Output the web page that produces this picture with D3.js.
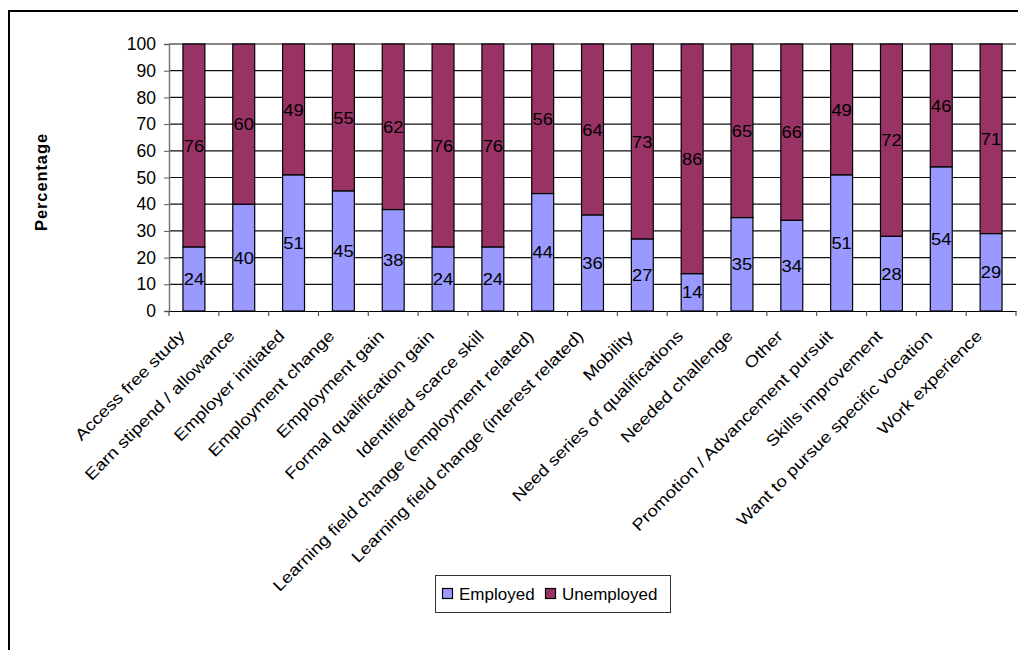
<!DOCTYPE html>
<html>
<head>
<meta charset="utf-8">
<script src="https://cdn.jsdelivr.net/npm/d3@7/dist/d3.min.js"></script>
<style>
  html, body { margin: 0; padding: 0; background: #fff; }
  svg { display: block; }
  text { font-family: Arial, "Liberation Sans", sans-serif; }
</style>
</head>
<body>
<script>
const categories = [
  "Access free study",
  "Earn stipend / allowance",
  "Employer initiated",
  "Employment change",
  "Employment gain",
  "Formal qualification gain",
  "Identified scarce skill",
  "Learning field change (employment related)",
  "Learning field change (interest related)",
  "Mobility",
  "Need series of qualifications",
  "Needed challenge",
  "Other",
  "Promotion / Advancement pursuit",
  "Skills improvement",
  "Want to pursue specific vocation",
  "Work experience"
];
const employed   = [24, 40, 51, 45, 38, 24, 24, 44, 36, 27, 14, 35, 34, 51, 28, 54, 29];
const unemployed = [76, 60, 49, 55, 62, 76, 76, 56, 64, 73, 86, 65, 66, 49, 72, 46, 71];
const seriesNames = ["Employed", "Unemployed"];
const seriesColors = ["#9999FF", "#993366"];
const yTicks = [0, 10, 20, 30, 40, 50, 60, 70, 80, 90, 100];

const W = 1018, H = 650;
const svg = d3.select("body").append("svg").attr("width", W).attr("height", H);

// outer chart border
svg.append("rect")
  .attr("x", 9).attr("y", 11).attr("width", W + 20).attr("height", H + 20)
  .attr("fill", "none").attr("stroke", "#000").attr("stroke-width", 2);

const plot = { left: 169, right: 1016, top: 44, bottom: 311 };

const x = d3.scaleBand()
  .domain(categories)
  .range([plot.left, plot.right])
  .paddingInner(0.56)
  .paddingOuter(0.28);

const y = d3.scaleLinear().domain([0, 100]).range([plot.bottom, plot.top]);

// gridlines
svg.append("g")
  .selectAll("line")
  .data(yTicks.filter(d => d > 0))
  .join("line")
  .attr("x1", plot.left).attr("x2", plot.right)
  .attr("y1", d => y(d)).attr("y2", d => y(d))
  .attr("stroke", "#111").attr("stroke-width", 1.2);

// stacked data
const table = categories.map((c, i) => ({ cat: c, Employed: employed[i], Unemployed: unemployed[i] }));
const stack = d3.stack().keys(seriesNames)(table);

const layers = svg.append("g").selectAll("g")
  .data(stack)
  .join("g")
  .attr("fill", (d, i) => seriesColors[i]);

layers.selectAll("rect")
  .data(d => d)
  .join("rect")
  .attr("x", d => x(d.data.cat))
  .attr("width", x.bandwidth())
  .attr("y", d => y(d[1]))
  .attr("height", d => y(d[0]) - y(d[1]))
  .attr("stroke", "#000")
  .attr("stroke-width", 1.2);

// data labels
layers.selectAll("text")
  .data(d => d)
  .join("text")
  .attr("transform", d => `translate(${x(d.data.cat) + x.bandwidth() / 2},${y((d[0] + d[1]) / 2)}) scale(1.08,1)`)
  .attr("dy", "0.36em")
  .attr("text-anchor", "middle")
  .attr("fill", "#000")
  .style("font-size", "17px")
  .text(d => d[1] - d[0]);

// y axis
const yAxis = svg.append("g")
  .attr("transform", `translate(${plot.left},0)`)
  .call(d3.axisLeft(y).tickValues(yTicks).tickSize(5).tickPadding(8));
yAxis.select(".domain").attr("stroke", "#777").attr("stroke-width", 1.5);
yAxis.selectAll(".tick line").attr("stroke", "#555");
yAxis.selectAll("text").style("font-size", "17.5px").attr("fill", "#000");

// x axis
const xAxis = svg.append("g")
  .attr("transform", `translate(0,${plot.bottom})`)
  .call(d3.axisBottom(x).tickSize(0).tickFormat(""));
xAxis.select(".domain").attr("stroke", "#000").attr("stroke-width", 1.2);
xAxis.selectAll(".tick").remove();

// category boundary ticks
const step = x.step();
svg.append("g").selectAll("line")
  .data(d3.range(categories.length + 1))
  .join("line")
  .attr("x1", i => plot.left + i * step).attr("x2", i => plot.left + i * step)
  .attr("y1", plot.bottom).attr("y2", plot.bottom + 5)
  .attr("stroke", "#555").attr("stroke-width", 1.2);

// category labels (rotated)
svg.append("g").selectAll("text")
  .data(categories)
  .join("text")
  .attr("transform", d => `translate(${x(d) + x.bandwidth() / 2 - 8},${plot.bottom + 26}) rotate(-45) scale(1.17,1)`)
  .attr("text-anchor", "end")
  .style("font-size", "16px")
  .attr("fill", "#000")
  .text(d => d);

// y axis title
svg.append("text")
  .attr("transform", `translate(47,182) rotate(-90)`)
  .attr("text-anchor", "middle")
  .style("font-size", "16.5px")
  .style("font-weight", "bold")
  .style("letter-spacing", "0.9px")
  .text("Percentage");

// legend
const lg = svg.append("g");
lg.append("rect")
  .attr("x", 435.5).attr("y", 575.5).attr("width", 235).attr("height", 37)
  .attr("fill", "#fff").attr("stroke", "#333").attr("stroke-width", 1);
const legendItems = [
  { name: seriesNames[0], color: seriesColors[0], x: 442 },
  { name: seriesNames[1], color: seriesColors[1], x: 545 }
];
const li = lg.selectAll("g").data(legendItems).join("g")
  .attr("transform", d => `translate(${d.x},588)`);
li.append("rect")
  .attr("x", 0.5).attr("y", 0.5).attr("width", 10).attr("height", 10)
  .attr("fill", d => d.color).attr("stroke", "#000").attr("stroke-width", 1.2);
li.append("text")
  .attr("x", 17).attr("y", 11.5)
  .style("font-size", "17px")
  .text(d => d.name);
</script>
</body>
</html>
